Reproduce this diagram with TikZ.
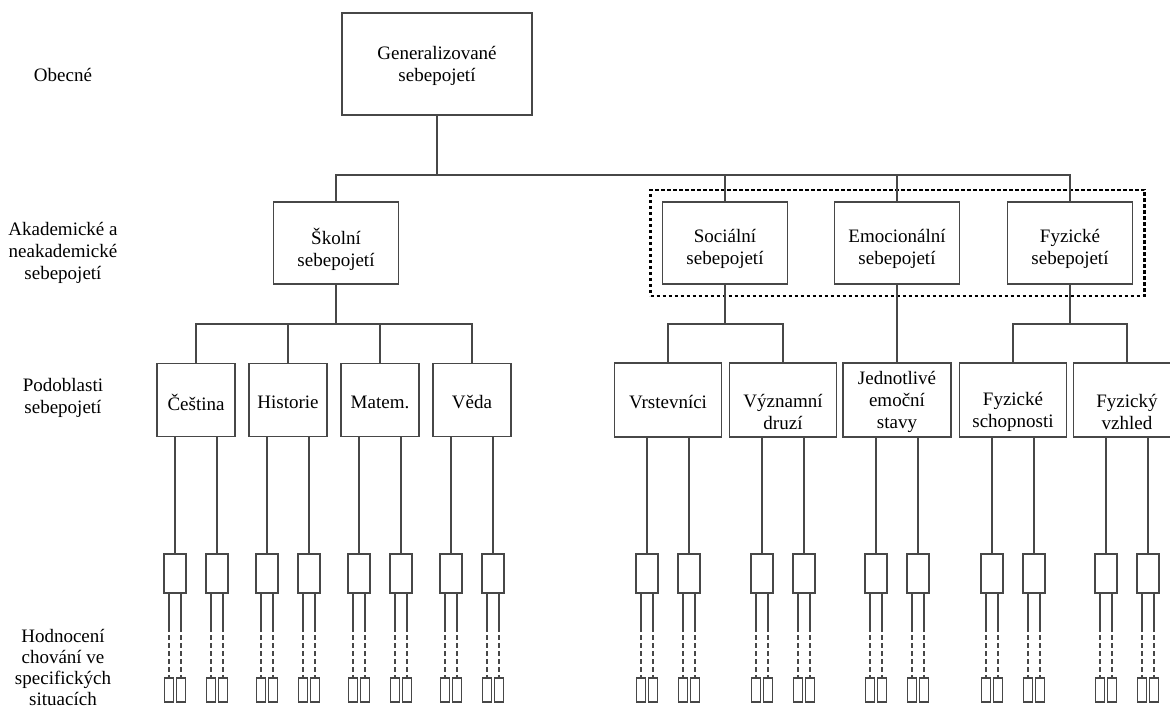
\documentclass[tikz,border=0pt]{standalone}
\usepackage{fontspec}
\setmainfont{Liberation Serif}
\usetikzlibrary{fit}
\tikzset{
  ln/.style={draw=black!72, line width=1.3pt},
  bx/.style={draw=black!72, line width=1.3pt, fill=white, rectangle, inner sep=0pt, outer sep=0pt},
  txt/.style={font=\fontsize{19}{22}\selectfont, align=center, inner sep=0pt, text=black},
  grpbox/.style={draw=black, line width=2.6pt, dash pattern=on 3.5pt off 2.5pt, inner xsep=12pt, inner ysep=12pt},
  dashln/.style={draw=black!72, line width=1.3pt, dash pattern=on 5pt off 3pt},
}
\newcommand{\mkbox}[7]{%
  \node[bx, minimum width=#4pt, minimum height=#5pt] (#1) at (#2,#3) {};
  \node[txt] (#1-t) at ([yshift=#6pt]#1.center) {#7};
}
\begin{document}
\begin{tikzpicture}[x=1pt,y=-1pt]
\fill[white] (0,0) rectangle (1170,708);
\useasboundingbox (0,0) rectangle (1170,708);

% left level labels
\node[txt] (l1) at (63,75) {Obecné};
\node[txt] (l2) at (63,253) {Akademické a\\neakademické\\sebepojetí};
\node[txt] (l3) at (63,398) {Podoblasti\\sebepojetí};
\node[txt, font=\fontsize{19}{21}\selectfont, anchor=north] (l4) at (63,629) {Hodnocení\\chování ve\\specifických\\situacích};

% boxes
\mkbox{gen}{437}{64}{190}{102}{-2}{Generalizované\\sebepojetí}
\mkbox{skol}{336}{243}{125}{82}{-6}{Školní\\sebepojetí}
\mkbox{soc}{725}{243}{125}{82}{-6}{Sociální\\sebepojetí}
\mkbox{emo}{897}{243}{125}{82}{-6}{Emocionální\\sebepojetí}
\mkbox{fyz}{1070}{243}{125}{82}{-6}{Fyzické\\sebepojetí}

\mkbox{ces}{196}{400}{78}{73}{-2}{Čeština}
\mkbox{his}{288}{400}{78}{73}{-2}{Historie}
\mkbox{mat}{380}{400}{78}{73}{-2}{Matem.}
\mkbox{ved}{472}{400}{78}{73}{-2}{Věda}
\mkbox{vrs}{668}{400}{107}{74}{-2}{Vrstevníci}
\mkbox{vyz}{783}{400}{107}{74}{-12}{Významní\\druzí}
\mkbox{jed}{897}{400}{108}{74}{-2}{Jednotlivé\\emoční\\stavy}
\mkbox{fsc}{1013}{400}{107}{74}{-12}{Fyzické\\schopnosti}
\mkbox{fvz}{1127}{400}{107}{74}{-12}{Fyzický\\vzhled}

% dotted group
\node[grpbox, fit=(soc)(emo)(fyz)] (grp) {};

% connectors level 1
\coordinate (bus1) at (0,175);
\draw[ln] (gen.south) -- (gen.south |- bus1);
\draw[ln] (skol.north) |- (fyz.north |- bus1) -- (fyz.north);
\draw[ln] (soc.north |- bus1) -- (soc.north);
\draw[ln] (emo.north |- bus1) -- (emo.north);

% connectors level 2
\coordinate (bus2) at (0,324);
\draw[ln] (skol.south) -- (skol.south |- bus2);
\draw[ln] (ces.north) |- (ved.north |- bus2) -- (ved.north);
\draw[ln] (his.north |- bus2) -- (his.north);
\draw[ln] (mat.north |- bus2) -- (mat.north);
\draw[ln] (soc.south) -- (soc.south |- bus2);
\draw[ln] (vrs.north) |- (vyz.north |- bus2) -- (vyz.north);
\draw[ln] (emo.south) -- (jed.north);
\draw[ln] (fyz.south) -- (fyz.south |- bus2);
\draw[ln] (fsc.north) |- (fvz.north |- bus2) -- (fvz.north);

% situation level
\foreach \p/\x in {ces/196, his/288, mat/380, ved/472, vrs/668, vyz/783, jed/897, fsc/1013, fvz/1127} {
  \foreach \s/\d in {a/-21, b/21} {
    \pgfmathsetmacro\cx{\x+\d}
    \node[bx, minimum width=22pt, minimum height=39pt] (\p\s) at (\cx,573.5) {};
    \draw[ln] (\p\s.north |- \p.south) -- (\p\s.north);
    \foreach \t/\e in {1/-6, 2/6} {
      \pgfmathsetmacro\tx{\cx+\e}
      \node[bx, minimum width=9pt, minimum height=24pt] (\p\s\t) at (\tx,690) {};
      \coordinate (\p\s\t m) at (\tx,627);
      \draw[ln] (\p\s.south -| \p\s\t m) -- (\p\s\t m);
      \draw[dashln] (\p\s\t m) -- (\p\s\t.north);
    }
  }
}
\end{tikzpicture}
\end{document}
